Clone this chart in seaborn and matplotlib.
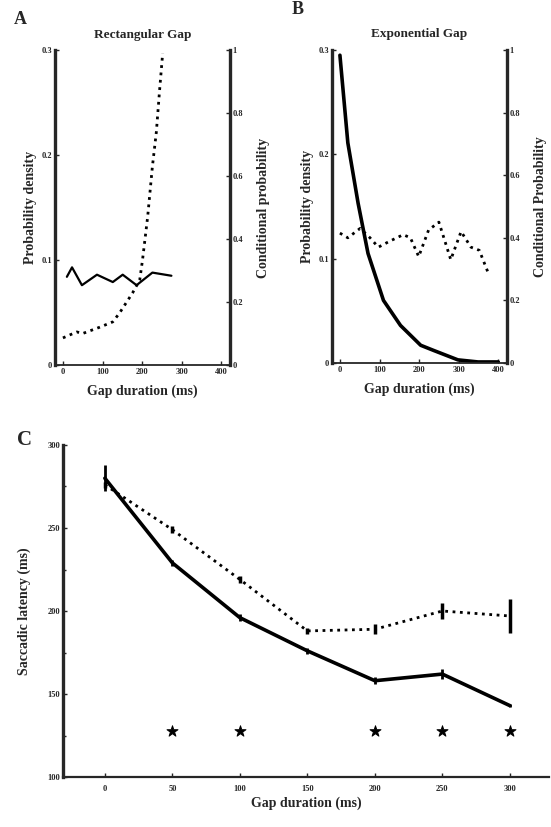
import numpy as np
import pandas as pd
import matplotlib
matplotlib.use("Agg")
import matplotlib.pyplot as plt
import seaborn as sns

# Panel A - rectangular gap
a_dens_x = [10, 23, 48, 86, 126, 151, 186, 226, 274]
a_dens_y = [0.084, 0.093, 0.076, 0.086, 0.079, 0.086, 0.076, 0.088, 0.085]
a_cond_x = [0, 35, 50, 93, 126, 143, 176, 194, 201, 214, 226, 236, 244, 252]
a_cond_y = [0.086, 0.105, 0.10, 0.12, 0.137, 0.165, 0.229, 0.27, 0.333, 0.47, 0.63, 0.74, 0.87, 0.99]

# Panel B - exponential gap
b_dens_x = [0, 20, 46, 71, 110, 153, 204, 237, 298, 349, 400]
b_dens_y = [0.295, 0.211, 0.153, 0.105, 0.060, 0.036, 0.017, 0.012, 0.003, 0.001, 0.001]
b_cond_x = [0, 20, 51, 76, 97, 127, 160, 178, 199, 224, 250, 280, 306, 331, 352, 377]
b_cond_y = [0.415, 0.40, 0.43, 0.40, 0.37, 0.39, 0.41, 0.40, 0.34, 0.425, 0.45, 0.33, 0.42, 0.37, 0.36, 0.28]

# Panel C - saccadic latency
gaps = [0, 50, 100, 150, 200, 250, 300]
lat_solid = [280, 229, 196, 176, 158, 162, 143]
err_solid = [8, 2, 2, 2, 2, 3, 1]
lat_dotted = [276, 249, 219, 188, 189, 200, 197]
err_dotted = [2, 2, 2, 2, 3, 5, 10]
star_x = [50, 100, 200, 250, 300]
star_y = [128, 128, 128, 128, 128]

sns.set_style("ticks")
plt.rcParams['font.family'] = ['Liberation Serif', 'DejaVu Serif']
plt.rcParams['font.weight'] = 'bold'

fig = plt.figure(figsize=(5.51, 8.27), dpi=100)
W, H = 551, 827


def box(l, t, r, b):
    return [l / W, 1 - b / H, (r - l) / W, (b - t) / H]


tick_kw = dict(labelsize=6, width=1, length=3, direction='in', pad=2)
lab_kw = dict(fontsize=10, fontweight='bold')


def gap_panel(rect, title, dx, dy, cx, cy, dens_lw, right_label):
    ax = fig.add_axes(rect)
    sns.lineplot(x=dx, y=dy, ax=ax, color='black', lw=dens_lw)
    ax.set_xlim(-20, 422)
    ax.set_ylim(0, 0.3)
    ax.set_xticks([0, 100, 200, 300, 400])
    ax.set_yticks([0, 0.1, 0.2, 0.3])
    ax.set_yticklabels(['0', '0.1', '0.2', '0.3'])
    ax.tick_params(**tick_kw)
    ax.set_xlabel('Gap duration (ms)', labelpad=6, **lab_kw)
    ax.set_ylabel('Probability density', labelpad=3, **lab_kw)
    ax.set_title(title, fontsize=9.5, fontweight='bold', pad=9)
    ax.spines['top'].set_visible(False)
    ax.spines['left'].set_linewidth(2.4)
    ax.spines['bottom'].set_linewidth(1.3)
    ax2 = ax.twinx()
    sns.lineplot(x=cx, y=cy, ax=ax2, color='black', lw=2, linestyle=':')
    ax2.set_ylim(0, 1)
    ax2.set_yticks([0, 0.2, 0.4, 0.6, 0.8, 1])
    ax2.set_yticklabels(['0', '0.2', '0.4', '0.6', '0.8', '1'])
    ax2.tick_params(**tick_kw)
    ax2.set_ylabel(right_label, labelpad=10, rotation=90, **lab_kw)
    ax2.spines['top'].set_visible(False)
    ax2.spines['right'].set_linewidth(2.4)
    ax2.spines['left'].set_visible(False)
    ax2.spines['bottom'].set_visible(False)
    return ax


gap_panel(box(55, 50, 230, 365), 'Rectangular Gap', a_dens_x, a_dens_y,
          a_cond_x, a_cond_y, 1.6, 'Conditional probability')
gap_panel(box(332, 50, 507, 363), 'Exponential Gap', b_dens_x, b_dens_y,
          b_cond_x, b_cond_y, 2.6, 'Conditional Probability')

# Panel C
axc = fig.add_axes(box(63, 445, 549, 777))
df = pd.DataFrame({'gap': gaps * 2,
                   'lat': lat_solid + lat_dotted,
                   'cond': ['solid'] * 7 + ['dotted'] * 7})
sns.lineplot(data=df[df.cond == 'solid'], x='gap', y='lat', ax=axc,
             color='black', lw=2.6)
sns.lineplot(data=df[df.cond == 'dotted'], x='gap', y='lat', ax=axc,
             color='black', lw=2, linestyle=':')
axc.errorbar(gaps, lat_solid, yerr=err_solid, fmt='none', ecolor='black', elinewidth=2)
axc.errorbar(gaps, lat_dotted, yerr=err_dotted, fmt='none', ecolor='black', elinewidth=2.5)
sns.scatterplot(x=star_x, y=star_y, ax=axc, marker='*', s=70, color='black',
                edgecolor='black')
axc.set_xlim(-31, 329)
axc.set_ylim(100, 300)
axc.set_xticks(gaps)
axc.set_yticks([100, 150, 200, 250, 300])
axc.set_yticks([125, 175, 225, 275], minor=True)
axc.tick_params(**tick_kw)
axc.tick_params(axis='x', pad=6)
axc.tick_params(which='minor', direction='in', length=2, width=1)
axc.spines['top'].set_visible(False)
axc.spines['right'].set_visible(False)
axc.spines['left'].set_linewidth(2.4)
axc.spines['bottom'].set_linewidth(1.6)
axc.set_xlabel('Gap duration (ms)', labelpad=2, **lab_kw)
axc.set_ylabel('Saccadic latency (ms)', labelpad=12, **lab_kw)

fig.text(20 / W, 1 - 20 / H, 'A', fontsize=13, fontweight='bold', va='center', ha='center')
fig.text(298 / W, 1 - 10 / H, 'B', fontsize=13, fontweight='bold', va='center', ha='center')
fig.text(25 / W, 1 - 440 / H, 'C', fontsize=15, fontweight='bold', va='center', ha='center')

fig.savefig('out.png', dpi=100)
